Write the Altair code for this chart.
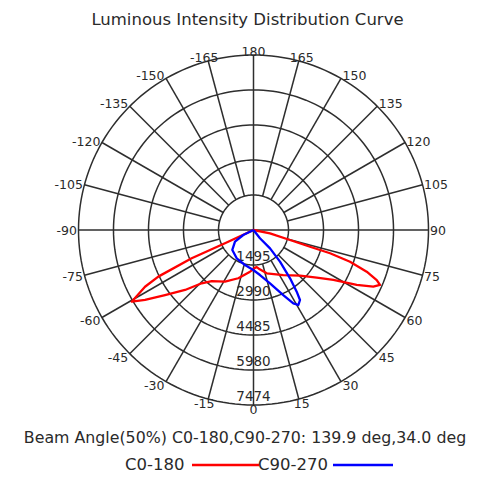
import altair as alt
import pandas as pd
import numpy as np

# ---------------- data ----------------
title_text = "Luminous Intensity Distribution Curve"
beam_text = "Beam Angle(50%) C0-180,C90-270: 139.9 deg,34.0 deg"
legend_names = ["C0-180", "C90-270"]
legend_colors = ["#ff0000", "#0000ff"]

ring_values = [1495, 2990, 4485, 5980, 7474]
angle_ticks = [-165, -150, -135, -120, -105, -90, -75, -60, -45, -30, -15,
               0, 15, 30, 45, 60, 75, 90, 105, 120, 135, 150, 165, 180]

# C0-180 curve (gamma angle in degrees, intensity in cd)
c0_angles = [-90, -65.0, -65.4, -63.9, -62.4, -59.5, -57.2, -53.7, -48.8, -44.2,
             -39.3, -28.9, -17.5, -4.8, -1.0, 2.0, 5.0, 9.0, 17.0, 33.5, 45.5,
             53.0, 58.0, 62.0, 64.7, 66.5, 67.9, 69.8, 71.8, 73.1, 73.5, 74.7,
             78.6, 90]
c0_cd = [0, 1345, 2904, 4527, 5228, 6035, 5510, 4690, 3887, 3173,
         2819, 2520, 2161, 1785, 1700, 1620, 1590, 1700, 1935, 2306, 2785,
         3383, 4023, 4993, 5659, 5890, 5680, 5151, 4339, 3417, 2516, 1614,
         718, 0]

# C90-270 curve
c90_angles = [-90, -63.9, -57.7, -46.7, -30.7, -13.7, -0.3, 8.2, 17.2, 24.6,
              28.5, 30.9, 33.6, 35.0, 37.1, 39.9, 42.0, 38.0, 90]
c90_cd = [0, 487, 935, 1243, 1405, 1538, 1708, 1943, 2383, 3054,
          3562, 3733, 3588, 3216, 2588, 1764, 1055, 448, 0]

# ---------------- layout ----------------
W, H = 465, 469
CX, CY = 245.5, 222.0          # pole position inside the view (px)
R_PX = 175.0                    # outer ring radius in px
R_MAX = ring_values[-1]
K = R_MAX / R_PX                # cd per px

xscale = alt.Scale(domain=[-CX * K, (W - CX) * K], nice=False, zero=False)
yscale = alt.Scale(domain=[-(H - CY) * K, CY * K], nice=False, zero=False)

TXT = "#2a2a2a"
GRID = "#2e2e2e"
FONT = "DejaVu Sans"


def X(f="x"):
    return alt.X(f"{f}:Q", scale=xscale, axis=None)


def Y(f="y"):
    return alt.Y(f"{f}:Q", scale=yscale, axis=None)


# ---------------- grid ----------------
circ = pd.DataFrame([(r, t) for r in ring_values for t in range(0, 361, 2)],
                    columns=["r", "t"])
circles = alt.Chart(circ).transform_calculate(
    x="datum.r*sin(datum.t*PI/180)",
    y="-datum.r*cos(datum.t*PI/180)",
).mark_line(color=GRID, strokeWidth=1.5).encode(
    x=X(), y=Y(), detail="r:N", order="t:Q"
)

main_axes = [0, 90, 180, -90]
spk = pd.DataFrame({
    "a": angle_ticks,
    "r0": [0 if a in main_axes else ring_values[0] for a in angle_ticks],
})
spk["r1"] = R_MAX
spokes = alt.Chart(spk).transform_calculate(
    x="datum.r0*sin(datum.a*PI/180)",
    y="-datum.r0*cos(datum.a*PI/180)",
    x2="datum.r1*sin(datum.a*PI/180)",
    y2="-datum.r1*cos(datum.a*PI/180)",
).mark_rule(color=GRID, strokeWidth=1.5).encode(
    x=X(), y=Y(), x2="x2:Q", y2="y2:Q"
)

# ---------------- angle labels ----------------
lab = pd.DataFrame({"a": angle_ticks, "label": [str(a) for a in angle_ticks]})
lab_base = alt.Chart(lab).transform_calculate(
    s="sin(datum.a*PI/180)",
    c="cos(datum.a*PI/180)",
)


def label_layer(filt, align, dxpx):
    return lab_base.transform_filter(filt).transform_calculate(
        x=f"{R_MAX}*datum.s + ({dxpx})*{K}",
        y=f"-{R_MAX}*datum.c - (4*datum.c+1)*{K}",
    ).mark_text(align=align, baseline="middle", font=FONT, fontSize=12.5,
                color=TXT).encode(x=X(), y=Y(), text="label:N")


lab_right = label_layer("datum.s > 0.3", "left", "1.5")
lab_left = label_layer("datum.s < -0.3", "right", "-1.5")
lab_center = label_layer("abs(datum.s) <= 0.3", "center",
                         "datum.s > 0.01 ? 3 : (datum.s < -0.01 ? -4 : 0)")

# ---------------- ring labels ----------------
rl = pd.DataFrame({"r": ring_values, "label": [str(v) for v in ring_values]})
ring_labels = alt.Chart(rl).transform_calculate(
    x="0", y=f"-datum.r + 1.5*{K}"
).mark_text(align="center", baseline="bottom", font=FONT, fontSize=13.5,
            color=TXT).encode(x=X(), y=Y(), text="label:N")

# ---------------- curves ----------------
def curve(angles, cds, color):
    df = pd.DataFrame({"a": angles, "cd": cds, "i": range(len(angles))})
    return alt.Chart(df).transform_calculate(
        x="datum.cd*sin(datum.a*PI/180)",
        y="-datum.cd*cos(datum.a*PI/180)",
    ).mark_line(color=color, strokeWidth=2.3, strokeJoin="round").encode(
        x=X(), y=Y(), order="i:Q"
    )


red = curve(c0_angles, c0_cd, legend_colors[0])
blue = curve(c90_angles, c90_cd, legend_colors[1])

# ---------------- texts & legend ----------------
def free_text(t, x, y, size, align="center"):
    return alt.Chart(pd.DataFrame({"t": [t]})).mark_text(
        align=align, baseline="middle", font=FONT, fontSize=size, color=TXT
    ).encode(x=alt.value(x), y=alt.value(y), text="t:N")


title = free_text(title_text, 239.5, 12, 16.5)
beam = free_text(beam_text, 237, 430, 15.8)
leg1 = free_text(legend_names[0], 117, 457, 16.5, "left")
leg2 = free_text(legend_names[1], 250, 457, 16.5, "left")
one = pd.DataFrame({"k": [0]})
leg_line1 = alt.Chart(one).mark_rule(color=legend_colors[0], strokeWidth=2.3).encode(
    x=alt.value(184), x2=alt.value(251), y=alt.value(457))
leg_line2 = alt.Chart(one).mark_rule(color=legend_colors[1], strokeWidth=2.3).encode(
    x=alt.value(325), x2=alt.value(385), y=alt.value(457))

chart = alt.layer(
    circles, spokes, lab_right, lab_left, lab_center, ring_labels,
    red, blue, title, beam, leg1, leg2, leg_line1, leg_line2
).properties(
    width=W, height=H,
    autosize=alt.AutoSizeParams(type="none"),
    padding=0,
).configure_view(stroke=None)

chart.save("out.html", embed_options={"renderer": "svg", "actions": False})
